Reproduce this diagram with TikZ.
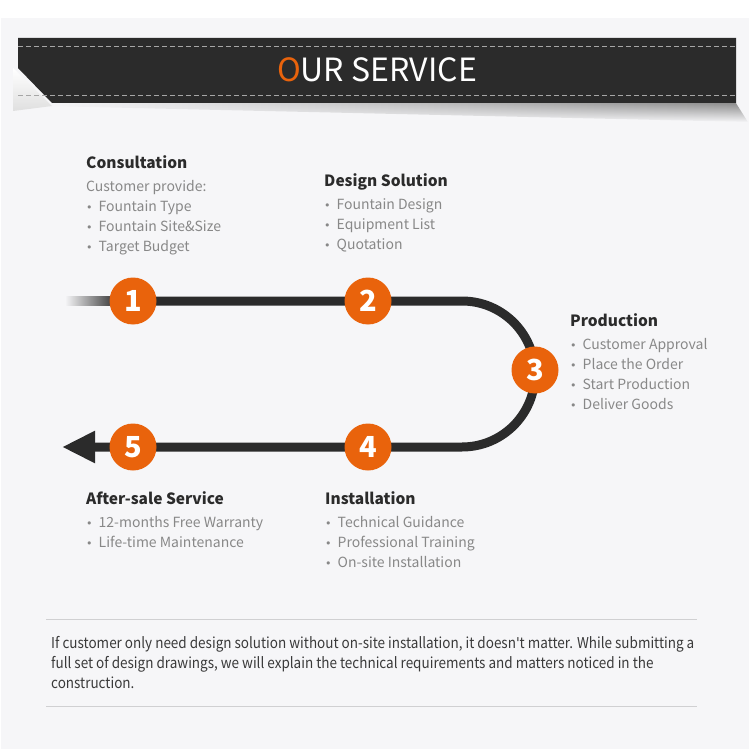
\documentclass[tikz,border=0pt]{standalone}
\usepackage{fontspec}
\setmainfont{Noto Sans CJK SC}
\newfontfamily\dotfont{DejaVu Sans}
\usetikzlibrary{arrows.meta,backgrounds,fadings,positioning}

\definecolor{orng}{RGB}{233,99,12}
\definecolor{ink}{RGB}{43,43,43}
\definecolor{panel}{RGB}{246,246,248}
\definecolor{greytxt}{RGB}{136,136,136}
\definecolor{notetxt}{RGB}{58,58,58}
\definecolor{rulegrey}{RGB}{208,208,210}

\tikzset{
  stepdot/.style={circle,fill=orng,minimum size=47pt,inner sep=0pt,text=white,
    font=\fontsize{29}{29}\selectfont\bfseries},
  track/.style={draw=ink,line width=9pt},
  stepinfo/.style={anchor=north west,inner sep=0pt,align=left,text=greytxt,
    font=\fontsize{14}{20}\selectfont},
  notebox/.style={anchor=north west,inner sep=0pt,text=notetxt,
    font=\fontsize{15}{20}\selectfont},
}
\newcommand{\sttl}[1]{{\fontsize{15.5}{20}\selectfont\bfseries\color{ink}#1}\\[3pt]}
\newcommand{\itm}{{\dotfont\fontsize{11}{11}\selectfont •}\hspace{6pt}}

\begin{document}
\begin{tikzpicture}[line cap=butt,line join=round,x=1pt,y=-1pt]
  \useasboundingbox (0,0) rectangle (750,749);

  \begin{pgfonlayer}{background}
    \fill[white] (0,0) rectangle (750,749);
    \fill[panel] (1,18) rectangle (749,749);
    % banner and its shadow
    \shade[left color=panel,right color=black!45,path fading=south]
      (45,103) -- (736,103) -- (748,122) -- (45,106) -- cycle;
    \fill[ink] (18,38) -- (736,38) -- (736,103) -- (52,103) -- (18,68) -- cycle;
    \shade[top color=white,bottom color=gray!25] (13,68) -- (52,106) -- (13,111) -- cycle;
    \draw[gray!70,dash pattern=on 5pt off 3pt] (18,46) -- (736,46);
    \draw[gray!70,dash pattern=on 5pt off 3pt] (18,95) -- (736,95);
    % fading start of the track
    \shade[left color=panel,right color=ink] (65,296.5) rectangle (118,305.5);
  \end{pgfonlayer}

  \node[text=white,font=\fontsize{32}{32}\selectfont] (title) at (377,70)
    {\textcolor{orng}{O}UR SERVICE};

  \node[stepdot] (c1) at (133,301) {1};
  \node[stepdot] (c2) at (368,301) {2};
  \node[stepdot] (c3) at (535,370) {3};
  \node[stepdot] (c4) at (368,447) {4};
  \node[stepdot] (c5) at (133,447) {5};

  \coordinate (bendtop) at (462,301);
  \coordinate (tip) at (62,447);
  \begin{pgfonlayer}{background}
    \draw[track,-{Triangle[length=33pt,width=30pt]}] (c1.center) -- (c2.center) -- (bendtop)
      arc[start angle=-90,end angle=90,radius=73] -- (c4.center) -- (c5.center) -- (tip);
  \end{pgfonlayer}

  \node[stepinfo] (consult) at (86,155)
    {\sttl{Consultation}Customer provide:\\\itm Fountain Type\\\itm Fountain Site\&Size\\\itm Target Budget};
  \node[stepinfo] (design) at (324,173)
    {\sttl{Design Solution}\itm Fountain Design\\\itm Equipment List\\\itm Quotation};
  \node[stepinfo] (product) at (570,313)
    {\sttl{Production}\itm Customer Approval\\\itm Place the Order\\\itm Start Production\\\itm Deliver Goods};
  \node[stepinfo] (aftersale) at (86,491)
    {\sttl{After-sale Service}\itm 12-months Free Warranty\\\itm Life-time Maintenance};
  \node[stepinfo] (install) at (325,491)
    {\sttl{Installation}\itm Technical Guidance\\\itm Professional Training\\\itm On-site Installation};

  \draw[rulegrey,line width=1pt] (46,619) -- (697,619);
  \draw[rulegrey,line width=1pt] (46,706) -- (697,706);
  \node[notebox] (note) at (51,634)
    {\scalebox{0.9}[1]{\begin{tabular}{@{}l@{}}
      If customer only need design solution without on-site installation, it doesn{\dotfont\fontsize{15}{15}\selectfont '}t matter. While submitting a\\
      full set of design drawings, we will explain the technical requirements and matters noticed in the\\
      construction.
    \end{tabular}}};
\end{tikzpicture}
\end{document}
